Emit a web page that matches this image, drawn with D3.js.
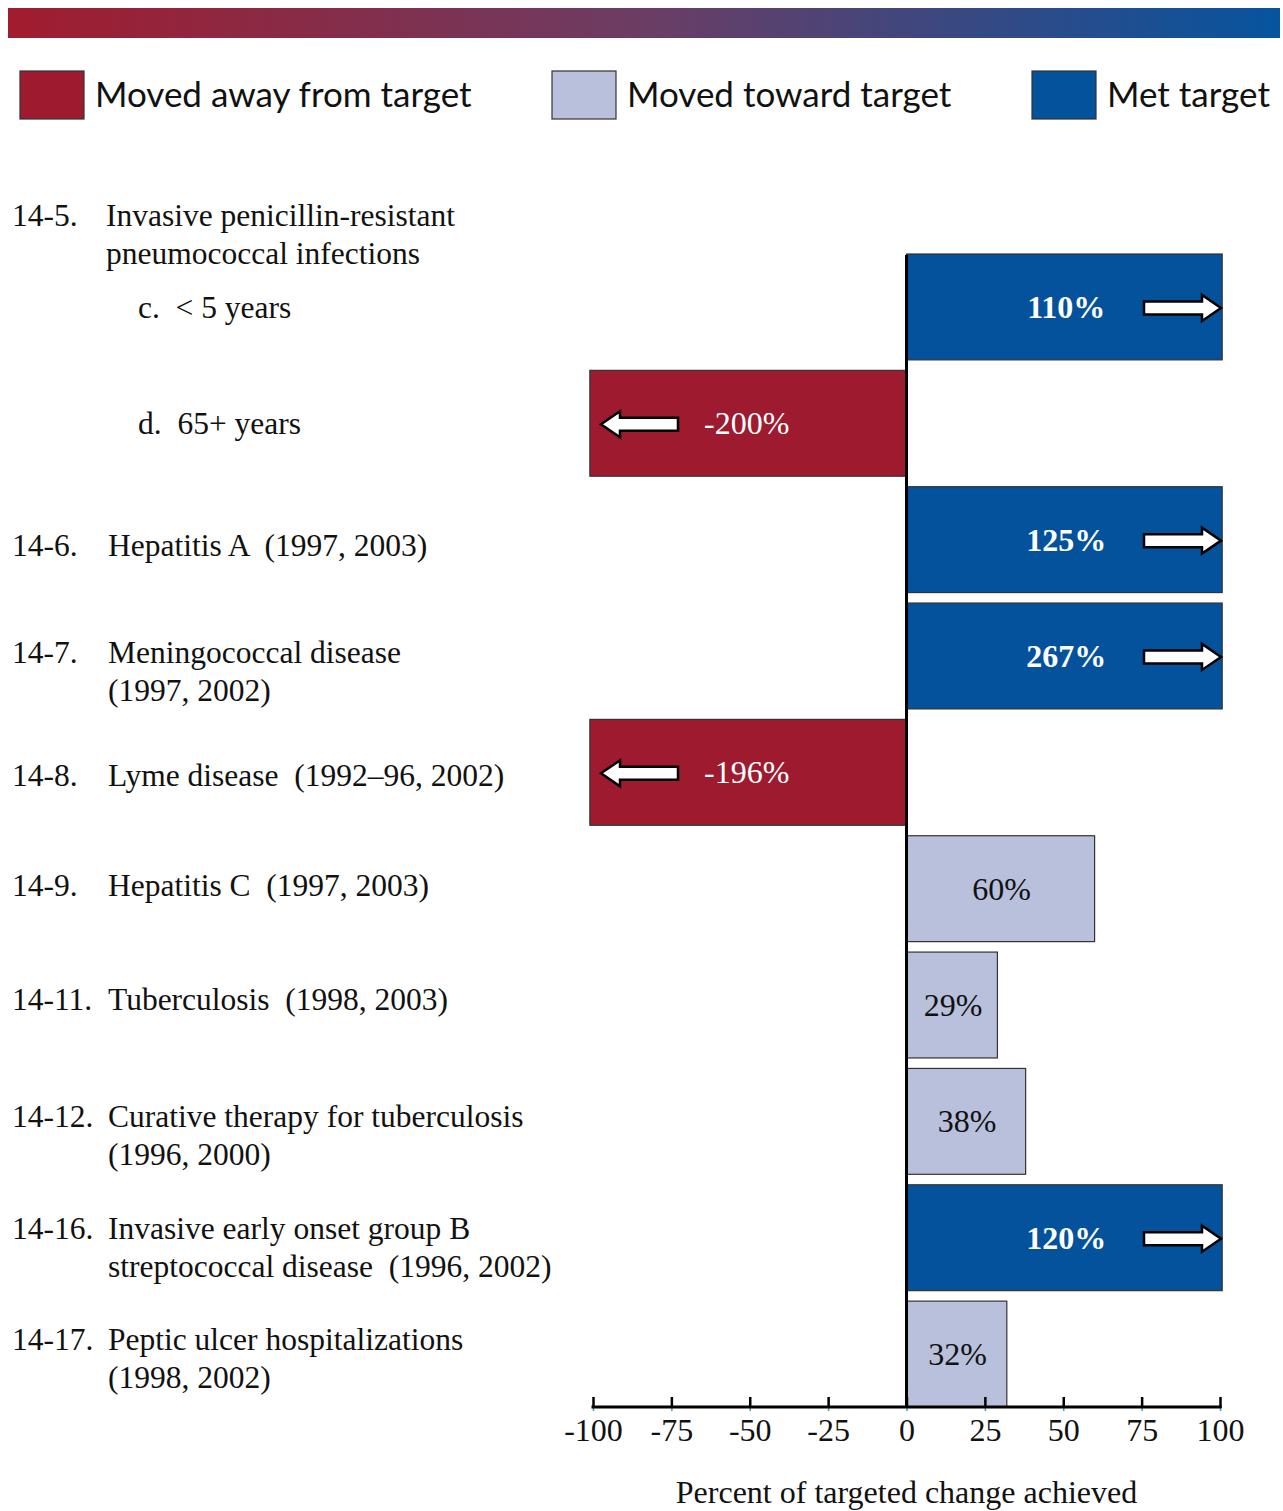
<!DOCTYPE html>
<html>
<head>
<meta charset="utf-8">
<script src="https://cdn.jsdelivr.net/npm/d3@7"></script>
<style>
  body { margin: 0; background: #fff; }
  svg text { white-space: pre; }
</style>
</head>
<body>
<div id="chart"></div>
<script>
// ---- data ----
const categories = ["14-5c", "14-5d", "14-6", "14-7", "14-8", "14-9", "14-11", "14-12", "14-16", "14-17"];
const values = [110, -200, 125, 267, -196, 60, 29, 38, 120, 32];
const statuses = ["met", "away", "met", "met", "away", "toward", "toward", "toward", "met", "toward"];
const objectiveNumbers = ["", "", "14-6.", "14-7.", "14-8.", "14-9.", "14-11.", "14-12.", "14-16.", "14-17."];
const objectiveLines = [
  ["c.  < 5 years"],
  ["d.  65+ years"],
  ["Hepatitis A  (1997, 2003)"],
  ["Meningococcal disease", "(1997, 2002)"],
  ["Lyme disease  (1992\u201396, 2002)"],
  ["Hepatitis C  (1997, 2003)"],
  ["Tuberculosis  (1998, 2003)"],
  ["Curative therapy for tuberculosis", "(1996, 2000)"],
  ["Invasive early onset group B", "streptococcal disease  (1996, 2002)"],
  ["Peptic ulcer hospitalizations", "(1998, 2002)"]
];
const groupNumber = "14-5.";
const groupLines = ["Invasive penicillin-resistant", "pneumococcal infections"];
const xTicks = [-100, -75, -50, -25, 0, 25, 50, 75, 100];
const legendKeys = ["away", "toward", "met"];
const legendLabels = ["Moved away from target", "Moved toward target", "Met target"];
const axisTitle = "Percent of targeted change achieved";

// ---- layout ----
const W = 1283, H = 1511;
const colors = { away: "#9e1b2f", toward: "#b8c0dc", met: "#04529c" };
const serif = "'Liberation Serif', 'Times New Roman', serif";
const sans = "Lato, 'Open Sans', sans-serif";
// vertical nudge of each row's first label line from the bar centre
const labelShift = [11, 11, 16, 7, 14, 7, 5, 6, 1, -4];

const svg = d3.select("#chart").append("svg")
  .attr("width", W).attr("height", H);

// top gradient band
const defs = svg.append("defs");
const grad = defs.append("linearGradient").attr("id", "topband");
grad.append("stop").attr("offset", "0%").attr("stop-color", "#a11c2e");
grad.append("stop").attr("offset", "50%").attr("stop-color", "#6b3d64");
grad.append("stop").attr("offset", "100%").attr("stop-color", "#06549f");
svg.append("rect")
  .attr("x", 8).attr("y", 8).attr("width", 1272).attr("height", 30)
  .attr("fill", "url(#topband)");

// legend
const legendX = [20, 552, 1032];
const legend = svg.append("g");
legendKeys.forEach((k, i) => {
  legend.append("rect")
    .attr("x", legendX[i]).attr("y", 71).attr("width", 64).attr("height", 48)
    .attr("fill", colors[k]).attr("stroke", "#333").attr("stroke-width", 1.2);
  legend.append("text")
    .attr("x", legendX[i] + 75).attr("y", 107)
    .style("font-family", sans).style("font-size", "35px")
    .attr("fill", "#111")
    .text(legendLabels[i]);
});

// scales
const x = d3.scaleLinear().domain([-100, 100]).range([593, 1220]);
const y = d3.scaleBand().domain(categories).range([254, 1407])
  .paddingInner(0.09).paddingOuter(0);

const rows = categories.map((c, i) => ({
  cat: c, value: values[i], status: statuses[i],
  num: objectiveNumbers[i], lines: objectiveLines[i], shift: labelShift[i]
}));

// bars (clipped just past the axis ends)
const clampV = v => Math.max(-101, Math.min(100.7, v));
svg.append("g").selectAll("rect").data(rows).join("rect")
  .attr("x", d => Math.min(x(0), x(clampV(d.value))))
  .attr("y", d => y(d.cat))
  .attr("width", d => Math.abs(x(clampV(d.value)) - x(0)))
  .attr("height", y.bandwidth())
  .attr("fill", d => colors[d.status])
  .attr("stroke", "#333").attr("stroke-width", 1.2);

// arrows for values beyond the axis range
const arrowPath = (tipX, cy, dir) => {
  const len = 77, head = 19, sh = 6.5, hh = 13;
  const bx = tipX - dir * len, nx = tipX - dir * head;
  return `M${bx},${cy - sh} L${nx},${cy - sh} L${nx},${cy - hh} L${tipX},${cy} ` +
         `L${nx},${cy + hh} L${nx},${cy + sh} L${bx},${cy + sh} Z`;
};
svg.append("g").selectAll("path")
  .data(rows.filter(d => Math.abs(d.value) > 100)).join("path")
  .attr("d", d => d.value > 0
    ? arrowPath(x(100) + 1, y(d.cat) + y.bandwidth() / 2 + 1, 1)
    : arrowPath(x(-100) + 8, y(d.cat) + y.bandwidth() / 2 + 1, -1))
  .attr("fill", "#fff").attr("stroke", "#000").attr("stroke-width", 2.5)
  .attr("stroke-linejoin", "miter");

// value labels
svg.append("g").selectAll("text").data(rows).join("text")
  .attr("x", d => d.status === "met" ? x(50) + 3 : d.status === "away" ? x(-50) - 3
    : (x(0) + x(d.value)) / 2 + 1)
  .attr("y", d => y(d.cat) + y.bandwidth() / 2 + 11)
  .attr("text-anchor", "middle")
  .style("font-family", serif).style("font-size", "32px")
  .style("font-weight", d => d.status === "met" ? "bold" : "normal")
  .attr("fill", d => d.status === "toward" ? "#111" : "#fff")
  .text(d => d.value + "%");

// zero line
svg.append("line")
  .attr("x1", x(0)).attr("x2", x(0))
  .attr("y1", y(categories[0]) + 1).attr("y2", 1408)
  .attr("stroke", "#000").attr("stroke-width", 3);

// x axis
const axisY = 1407;
const axis = svg.append("g").attr("transform", `translate(0,${axisY})`)
  .call(d3.axisBottom(x).tickValues(xTicks).tickSize(0).tickPadding(0).tickFormat(d3.format("d")));
axis.select(".domain").remove();
axis.selectAll(".tick text").remove();
axis.append("line")
  .attr("x1", x(-100) - 1.5).attr("x2", x(100) + 1.5)
  .attr("stroke", "#000").attr("stroke-width", 3);
axis.selectAll(".tick").append("line")
  .attr("y1", -10).attr("y2", 1).attr("stroke", "#000").attr("stroke-width", 2.5);
axis.selectAll(".tick").append("line")
  .attr("y1", 1).attr("y2", 4).attr("stroke", "#3aa6a6").attr("stroke-width", 1.5);
axis.selectAll(".tick").append("text")
  .attr("y", 34).attr("text-anchor", "middle")
  .style("font-family", serif).style("font-size", "32px")
  .attr("fill", "#111")
  .text(d => d);

svg.append("text")
  .attr("x", x(0)).attr("y", 1503).attr("text-anchor", "middle")
  .style("font-family", serif).style("font-size", "32px").attr("fill", "#111")
  .text(axisTitle);

// category labels
const numX = 12, textX = 108, lineGap = 38;
const labelFont = sel => sel.style("font-family", serif).style("font-size", "31.5px").attr("fill", "#111");

const firstY = y(categories[0]);
svg.append("text").attr("x", numX).attr("y", firstY - 28).call(labelFont).text(groupNumber);
groupLines.forEach((t, i) => {
  svg.append("text").attr("x", textX - 2).attr("y", firstY - 28 + i * lineGap)
    .call(labelFont).text(t);
});

const lab = svg.append("g").selectAll("g").data(rows).join("g")
  .attr("transform", d => `translate(0,${y(d.cat) + y.bandwidth() / 2 + d.shift})`);
lab.append("text").attr("x", numX).call(labelFont).text(d => d.num);
lab.each(function (d) {
  const g = d3.select(this);
  const indent = d.num === "" ? 138 : textX;
  d.lines.forEach((t, i) => {
    g.append("text").attr("x", indent).attr("y", i * lineGap).call(labelFont).text(t);
  });
});
</script>
</body>
</html>
